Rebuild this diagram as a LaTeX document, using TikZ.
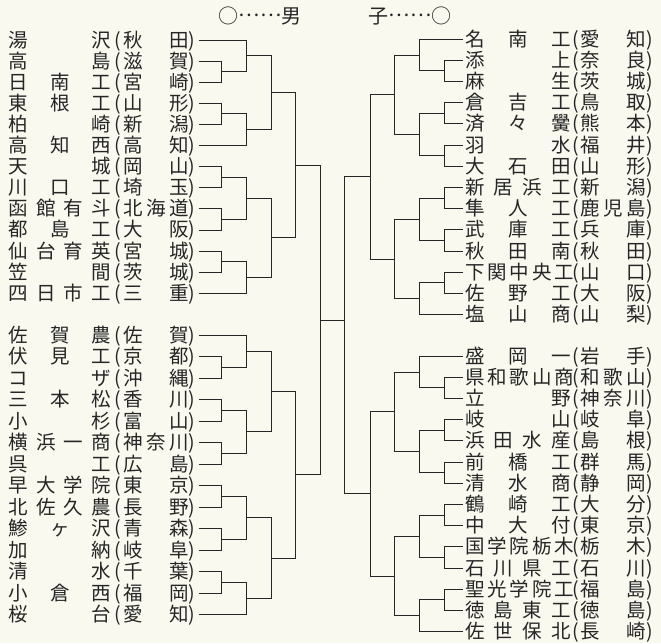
\documentclass[tikz,border=0pt]{standalone}
\usepackage{fontspec}
\usepackage{graphicx}
\newfontfamily\cjk{Noto Sans CJK JP}
\usetikzlibrary{calc}
\definecolor{paper}{RGB}{249,249,240}
\definecolor{ink}{RGB}{38,38,38}
\tikzset{
  ent/.style={inner sep=0pt, outer xsep=2pt, outer ysep=0pt, text height=16.5pt, text depth=2.5pt,
    font=\cjk\fontsize{19.5}{20}\selectfont, text=ink, anchor=west},
  br/.style={draw=ink, line width=0.75pt},
  hdr/.style={inner sep=0pt, font=\cjk\fontsize{20}{22}\selectfont, text=ink}
}
\newcommand\lp{(}
\newcommand\rp{)}
\newcommand\dts{\raisebox{0.33em}[0pt][0pt]{……}}
\newcommand\lent[4]{\node[ent] (#1) at (7,#2) {\makebox[102pt][s]{#3}\makebox[13pt]{\lp}\makebox[65pt][s]{#4}\makebox[8pt][l]{\rp}};}
\newcommand\rent[4]{\node[ent] (#1) at (463,#2) {\makebox[106pt][s]{#3}\makebox[10pt]{\lp}\makebox[65pt][s]{#4}\makebox[8pt][l]{\rp}};}
\newcommand\mt[4]{\draw[br] (#1) -- (#1 -| #3) -- (#2 -| #3) -- (#2);
  \coordinate (#4) at ($(#1 -| #3)!0.5!(#2 -| #3)$);}
\begin{document}
\begin{tikzpicture}[x=1pt,y=-1pt]
\fill[paper] (0,0) rectangle (661,643);
\useasboundingbox (0,0) rectangle (661,643);
% header
\node[hdr] (hL) at (260,16) {○\dts 男};
\node[hdr] (hR) at (410,16) {子\dts ○};
% columns
\coordinate (cA) at (221,0); \coordinate (cB) at (246,0); \coordinate (cC) at (271,0);
\coordinate (cD) at (295,0); \coordinate (cE) at (320,0);
\coordinate (dA) at (444,0); \coordinate (dB) at (419,0); \coordinate (dC) at (394,0);
\coordinate (dD) at (370,0); \coordinate (dE) at (344,0);
% left top
\lent{L1}{40}{湯 沢}{秋 田}
\lent{L2}{61.1}{高 島}{滋 賀}
\lent{L3}{82.2}{日 南 工}{宮 崎}
\lent{L4}{103.3}{東 根 工}{山 形}
\lent{L5}{124.4}{柏 崎}{新 潟}
\lent{L6}{145.5}{高 知 西}{高 知}
\lent{L7}{166.6}{天 城}{岡 山}
\lent{L8}{187.7}{川 口 工}{埼 玉}
\lent{L9}{208.8}{函 館 有 斗}{北 海 道}
\lent{L10}{229.9}{都 島 工}{大 阪}
\lent{L11}{251}{仙 台 育 英}{宮 城}
\lent{L12}{272.1}{笠 間}{茨 城}
\lent{L13}{293.2}{四 日 市 工}{三 重}
% left bottom
\lent{B1}{335}{佐 賀 農}{佐 賀}
\lent{B2}{356.5}{伏 見 工}{京 都}
\lent{B3}{378}{コ ザ}{沖 縄}
\lent{B4}{399.5}{三 本 松}{香 川}
\lent{B5}{421}{小 杉}{富 山}
\lent{B6}{442.5}{横 浜 一 商}{神 奈 川}
\lent{B7}{464}{呉 工}{広 島}
\lent{B8}{485.5}{早 大 学 院}{東 京}
\lent{B9}{507}{北 佐 久 農}{長 野}
\lent{B10}{528.5}{鯵 ヶ 沢}{青 森}
\lent{B11}{550}{加 納}{岐 阜}
\lent{B12}{571.5}{清 水}{千 葉}
\lent{B13}{593}{小 倉 西}{福 岡}
\lent{B14}{614.5}{桜 台}{愛 知}
% right top
\rent{R1}{39}{名 南 工}{愛 知}
\rent{R2}{60.2}{添 上}{奈 良}
\rent{R3}{81.4}{麻 生}{茨 城}
\rent{R4}{102.6}{倉 吉 工}{鳥 取}
\rent{R5}{123.8}{済 々 黌}{熊 本}
\rent{R6}{145}{羽 水}{福 井}
\rent{R7}{166.2}{大 石 田}{山 形}
\rent{R8}{187.4}{新 居 浜 工}{新 潟}
\rent{R9}{208.6}{隼 人 工}{鹿 児 島}
\rent{R10}{229.8}{武 庫 工}{兵 庫}
\rent{R11}{251}{秋 田 南}{秋 田}
\rent{R12}{272.2}{下 関 中 央 工}{山 口}
\rent{R13}{293.4}{佐 野 工}{大 阪}
\rent{R14}{314.6}{塩 山 商}{山 梨}
% right bottom
\rent{S1}{356}{盛 岡 一}{岩 手}
\rent{S2}{377.2}{県 和 歌 山 商}{和 歌 山}
\rent{S3}{398.4}{立 野}{神 奈 川}
\rent{S4}{419.6}{岐 山}{岐 阜}
\rent{S5}{440.8}{浜 田 水 産}{島 根}
\rent{S6}{462}{前 橋 工}{群 馬}
\rent{S7}{483.2}{清 水 商}{静 岡}
\rent{S8}{504.4}{鶴 崎 工}{大 分}
\rent{S9}{525.6}{中 大 付}{東 京}
\rent{S10}{546.8}{国 学 院 栃 木}{栃 木}
\rent{S11}{568}{石 川 県 工}{石 川}
\rent{S12}{589.2}{聖 光 学 院 工}{福 島}
\rent{S13}{610.4}{徳 島 東 工}{徳 島}
\rent{S14}{631.6}{佐 世 保 北}{長 崎}
% left top bracket
\mt{L2.east}{L3.east}{cA}{a23}
\mt{L4.east}{L5.east}{cA}{a45}
\mt{L7.east}{L8.east}{cA}{a78}
\mt{L9.east}{L10.east}{cA}{a910}
\mt{L11.east}{L12.east}{cA}{a1112}
\mt{L1.east}{a23}{cB}{ab1}
\mt{a45}{L6.east}{cB}{ab2}
\mt{a78}{a910}{cB}{ab3}
\mt{a1112}{L13.east}{cB}{ab4}
\mt{ab1}{ab2}{cC}{ac1}
\mt{ab3}{ab4}{cC}{ac2}
\mt{ac1}{ac2}{cD}{qL1}
% left bottom bracket
\mt{B2.east}{B3.east}{cA}{ba23}
\mt{B4.east}{B5.east}{cA}{ba45}
\mt{B6.east}{B7.east}{cA}{ba67}
\mt{B8.east}{B9.east}{cA}{ba89}
\mt{B10.east}{B11.east}{cA}{ba1011}
\mt{B12.east}{B13.east}{cA}{ba1213}
\mt{B1.east}{ba23}{cB}{bb1}
\mt{ba45}{ba67}{cB}{bb2}
\mt{ba89}{ba1011}{cB}{bb3}
\mt{ba1213}{B14.east}{cB}{bb4}
\mt{bb1}{bb2}{cC}{bc1}
\mt{bb3}{bb4}{cC}{bc2}
\mt{bc1}{bc2}{cD}{qL2}
% right top bracket
\mt{R2.west}{R3.west}{dA}{ra23}
\mt{R4.west}{R5.west}{dA}{ra45}
\mt{R6.west}{R7.west}{dA}{ra67}
\mt{R8.west}{R9.west}{dA}{ra89}
\mt{R10.west}{R11.west}{dA}{ra1011}
\mt{R12.west}{R13.west}{dA}{ra1213}
\mt{R1.west}{ra23}{dB}{rb1}
\mt{ra45}{ra67}{dB}{rb2}
\mt{ra89}{ra1011}{dB}{rb3}
\mt{ra1213}{R14.west}{dB}{rb4}
\mt{rb1}{rb2}{dC}{rc1}
\mt{rb3}{rb4}{dC}{rc2}
\mt{rc1}{rc2}{dD}{qR1}
% right bottom bracket
\mt{S2.west}{S3.west}{dA}{sa23}
\mt{S4.west}{S5.west}{dA}{sa45}
\mt{S6.west}{S7.west}{dA}{sa67}
\mt{S8.west}{S9.west}{dA}{sa89}
\mt{S10.west}{S11.west}{dA}{sa1011}
\mt{S12.west}{S13.west}{dA}{sa1213}
\mt{S1.west}{sa23}{dB}{sb1}
\mt{sa45}{sa67}{dB}{sb2}
\mt{sa89}{sa1011}{dB}{sb3}
\mt{sa1213}{S14.west}{dB}{sb4}
\mt{sb1}{sb2}{dC}{sc1}
\mt{sb3}{sb4}{dC}{sc2}
\mt{sc1}{sc2}{dD}{qR2}
% semifinals and final
\mt{qL1}{qL2}{cE}{fL}
\mt{qR1}{qR2}{dE}{fR}
\draw[br] (fL) -- (fL -| fR);
\end{tikzpicture}
\end{document}
